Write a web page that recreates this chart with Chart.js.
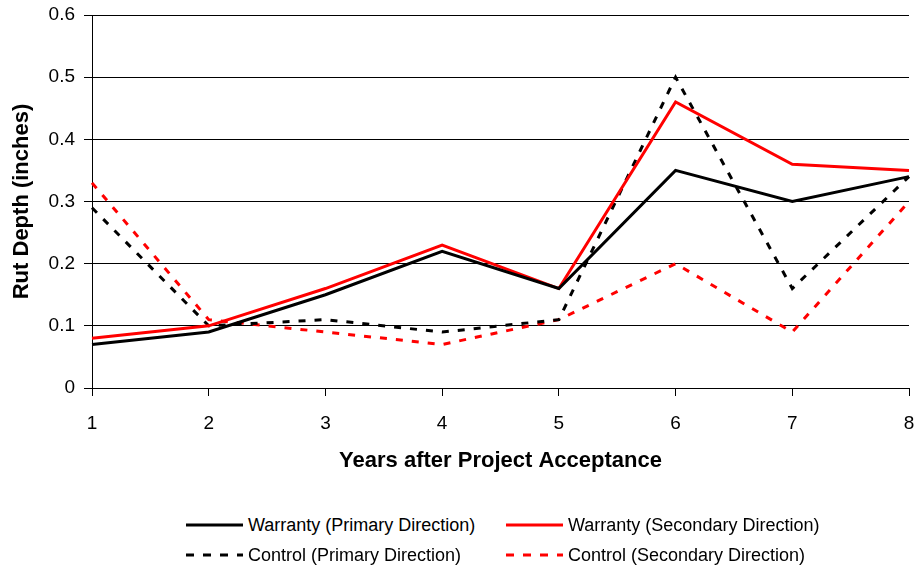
<!DOCTYPE html>
<html>
<head>
<meta charset="utf-8">
<script src="https://cdn.jsdelivr.net/npm/chart.js@4"></script>
<style>
  html, body { margin: 0; padding: 0; background: #fff; }
  #wrap { position: relative; width: 915px; height: 567px; font-family: "Liberation Sans", Arial, sans-serif; }
  #box { position: absolute; left: 0; top: 0; width: 915px; height: 480px; }
  #legend { position: absolute; left: 186px; top: 514px; display: grid; grid-template-columns: 320px 340px; row-gap: 8px; }
  .item { display: flex; align-items: center; font-size: 18px; color: #000; height: 22px; white-space: nowrap; }
  .item canvas { margin-right: 5px; }
</style>
</head>
<body>
<div id="wrap">
  <div id="box"><canvas id="chart"></canvas></div>
  <div id="legend"></div>
</div>
<script>
// years after acceptance
const years = ["1", "2", "3", "4", "5", "6", "7", "8"];
const warrantyPrimary = [0.07, 0.09, 0.15, 0.22, 0.16, 0.35, 0.30, 0.34];
const warrantySecondary = [0.08, 0.10, 0.16, 0.23, 0.16, 0.46, 0.36, 0.35];
const controlPrimary = [0.29, 0.10, 0.11, 0.09, 0.11, 0.50, 0.16, 0.34];
const controlSecondary = [0.33, 0.11, 0.09, 0.07, 0.11, 0.20, 0.09, 0.30];
const yTicks = [0, 0.1, 0.2, 0.3, 0.4, 0.5, 0.6];

const seriesNames = [
  "Warranty (Primary Direction)",
  "Warranty (Secondary Direction)",
  "Control (Primary Direction)",
  "Control (Secondary Direction)"
];
const dashPattern = [7, 9];

const ctx = document.getElementById("chart").getContext("2d");

function makeSet(label, data, color, dashed) {
  return {
    label: label,
    data: data,
    borderColor: color,
    backgroundColor: color,
    borderWidth: 3,
    borderDash: dashed ? dashPattern : [],
    pointRadius: 0,
    tension: 0,
    fill: false
  };
}

const chart = new Chart(ctx, {
  type: "line",
  data: {
    labels: years,
    datasets: [
      makeSet(seriesNames[0], warrantyPrimary, "#000000", false),
      makeSet(seriesNames[1], warrantySecondary, "#ff0000", false),
      makeSet(seriesNames[2], controlPrimary, "#000000", true),
      makeSet(seriesNames[3], controlSecondary, "#ff0000", true)
    ]
  },
  options: {
    responsive: true,
    maintainAspectRatio: false,
    animation: false,
    layout: { padding: { left: 5, right: 6, top: 15, bottom: 0 } },
    plugins: {
      legend: { display: false },
      tooltip: { enabled: false }
    },
    scales: {
      x: {
        offset: false,
        grid: { display: true, drawOnChartArea: false, color: "#000", tickLength: 8, tickWidth: 1 },
        border: { color: "#000", width: 1 },
        ticks: { color: "#000", font: { size: 19, family: "Liberation Sans" }, padding: 16, maxRotation: 0 },
        title: {
          display: true,
          text: "Years after Project Acceptance",
          color: "#000",
          font: { size: 22, weight: "bold", family: "Liberation Sans" },
          padding: { top: 0, bottom: 6 }
        },
        afterFit: (scale) => {
          scale.height = 92;
          scale.paddingLeft = 0;
          scale.paddingRight = 0;
        }
      },
      y: {
        min: 0,
        max: 0.6,
        afterBuildTicks: (scale) => { scale.ticks = yTicks.map(v => ({ value: v })); },
        grid: { color: "#000", lineWidth: 1, tickLength: 8 },
        border: { color: "#000", width: 1 },
        ticks: {
          color: "#000",
          font: { size: 19, family: "Liberation Sans" },
          padding: 9,
          callback: (v) => String(Math.round(v * 10) / 10)
        },
        title: {
          display: true,
          text: "Rut Depth (inches)",
          color: "#000",
          font: { size: 22, weight: "bold", family: "Liberation Sans" },
          padding: 4
        },
        afterFit: (scale) => {
          scale.width = 87;
          scale.paddingTop = 0;
          scale.paddingBottom = 0;
        }
      }
    }
  }
});

// legend in two columns, same order as the picture
const legend = document.getElementById("legend");
chart.data.datasets.forEach((ds) => {
  const item = document.createElement("div");
  item.className = "item";
  const c = document.createElement("canvas");
  c.width = 57;
  c.height = 10;
  const g = c.getContext("2d");
  g.strokeStyle = ds.borderColor;
  g.lineWidth = 3;
  g.setLineDash(ds.borderDash.length ? [8, 9] : []);
  g.beginPath();
  g.moveTo(0, 5);
  g.lineTo(c.width, 5);
  g.stroke();
  item.appendChild(c);
  const t = document.createElement("span");
  t.textContent = ds.label;
  item.appendChild(t);
  legend.appendChild(item);
});
</script>
</body>
</html>
